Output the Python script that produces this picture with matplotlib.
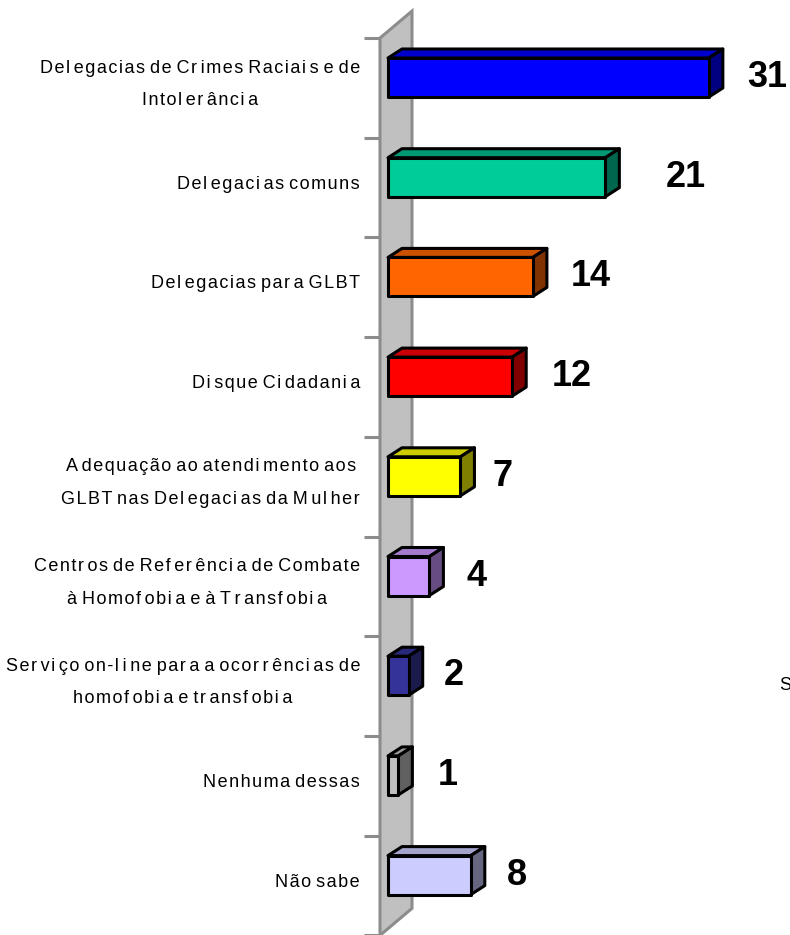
import numpy as np
import matplotlib.pyplot as plt
from matplotlib.patches import Polygon

# categories (top to bottom) and counts; \u2009 = narrow gap inside a word
categories = [
    "Del\u2009egacias de Cr\u2009imes Raciai\u2009s e de\nIntol\u2009er\u2009ânci\u2009a",
    "Del\u2009egaci\u2009as comuns",
    "Del\u2009egacias par\u2009a GLBT",
    "Di\u2009sque Ci\u2009dadani\u2009a",
    "A\u2009dequação ao atendi\u2009mento aos\nGLBT nas Del\u2009egaci\u2009as da M\u2009ul\u2009her",
    "Centr\u2009os de Ref\u2009er\u2009ênci\u2009a de Combate\nà Homof\u2009obi\u2009a e à T\u2009r\u2009ansf\u2009obi\u2009a",
    "Ser\u2009vi\u2009ço on-l\u2009i\u2009ne par\u2009a a ocor\u2009r\u2009ênci\u2009as de\nhomof\u2009obi\u2009a e tr\u2009ansf\u2009obi\u2009a",
    "Nenhuma dessas",
    "Não sabe",
]
values = [31, 21, 14, 12, 7, 4, 2, 1, 8]

front_colors = ["#0000FF", "#00CC99", "#FF6600", "#FF0000", "#FFFF00",
                "#CC99FF", "#333399", "#C0C0C0", "#CCCCFF"]
top_colors = ["#0000CC", "#009973", "#CC5200", "#CC0000", "#CCCC00",
              "#A37ACC", "#29297A", "#9A9A9A", "#A3A3CC"]
side_colors = ["#000080", "#00664D", "#803300", "#800000", "#808000",
               "#664C80", "#1A1A4D", "#606060", "#666680"]

# gap between bar end and its value label (px)
label_pad = [24, 46, 24, 26, 18, 23, 21, 25, 22]

# projection of the 3D box (in data units)
px_per_val = 10.35
px_per_cat = 99.7
wall_dx, wall_dy = 32 / px_per_val, -27 / px_per_cat
bar_ox, bar_oy = 8 / px_per_val, -10.4 / px_per_cat
bar_dx, bar_dy = 14 / px_per_val, -9 / px_per_cat
half_h = 19.5 / px_per_cat


def spaced(s, gap="\u200a"):
    # loose letter spacing between glyphs, left alone around spaces
    out = []
    for line in s.split("\n"):
        buf = line[:1]
        for a, b in zip(line, line[1:]):
            if a in " \u2009" or b in " \u2009":
                buf += b
            else:
                buf += gap + b
        out.append(buf)
    return "\n".join(out)


fig = plt.figure(figsize=(7.9, 9.35), dpi=100)
ax = fig.add_axes([0, 0, 1, 1])
ax.set_xlim(-380 / px_per_val, (790 - 380) / px_per_val)
ax.set_ylim((935 - 87.9) / px_per_cat, -87.9 / px_per_cat)
ax.axis("off")

n = len(categories)
fams = ["Liberation Sans", "DejaVu Sans"]

# back wall
wall = Polygon([(0, -0.5), (wall_dx, -0.5 + wall_dy),
                (wall_dx, n - 0.5 + wall_dy), (0, n - 0.5)],
               closed=True, facecolor="#C0C0C0", edgecolor="#8C8C8C",
               linewidth=2.2, zorder=1)
ax.add_patch(wall)

# category ticks
for k in range(n + 1):
    ax.plot([-16 / px_per_val, 0], [k - 0.5, k - 0.5], color="#8C8C8C",
            linewidth=2.2, solid_capstyle="butt", zorder=1)

for i, (v, fc, tc, sc) in enumerate(zip(values, front_colors, top_colors, side_colors)):
    x0, x1 = bar_ox, bar_ox + v
    yt, yb = i + bar_oy - half_h, i + bar_oy + half_h
    top = [(x0, yt), (x1, yt), (x1 + bar_dx, yt + bar_dy), (x0 + bar_dx, yt + bar_dy)]
    side = [(x1, yt), (x1 + bar_dx, yt + bar_dy), (x1 + bar_dx, yb + bar_dy), (x1, yb)]
    front = [(x0, yt), (x1, yt), (x1, yb), (x0, yb)]
    for pts, c in ((top, tc), (side, sc), (front, fc)):
        ax.add_patch(Polygon(pts, closed=True, facecolor=c, edgecolor="black",
                             linewidth=2.2, joinstyle="round", zorder=3))
    ax.text(x1 + bar_dx + label_pad[i] / px_per_val, i + bar_oy, str(v),
            fontsize=26, fontweight="bold", family="Liberation Sans",
            ha="left", va="center", zorder=4)

    ax.text(-20 / px_per_val, i - 0.035, spaced(categories[i]), fontsize=13,
            family=fams, ha="right", va="center",
            multialignment="center", linespacing=2.2, zorder=4)

fig.text(779 / 790, 1 - 686 / 935, "S", fontsize=13, family="Liberation Sans",
         ha="left", va="center")

fig.savefig("out.png", dpi=100)
